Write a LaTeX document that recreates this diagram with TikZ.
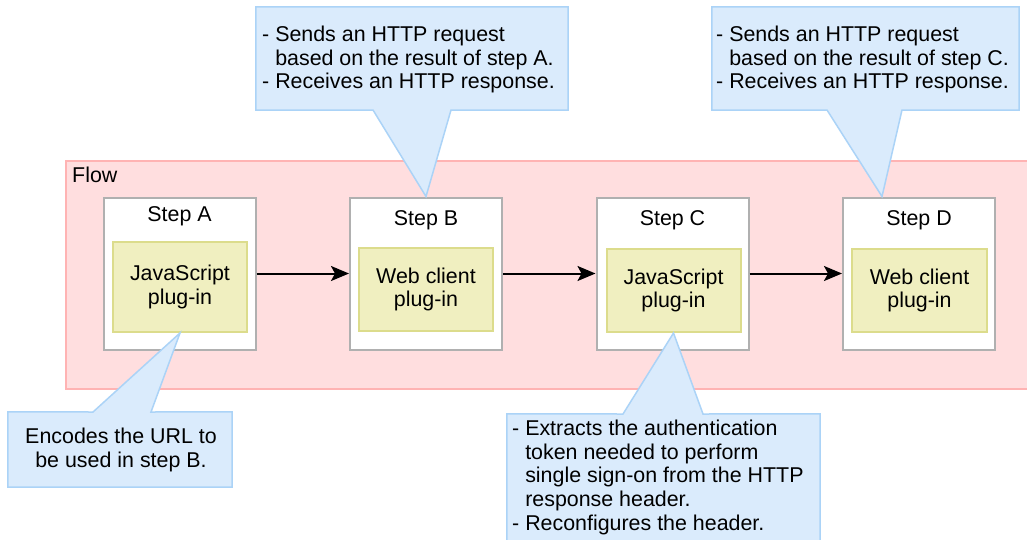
\documentclass[tikz,border=0pt]{standalone}
\usepackage{fontspec}
\setmainfont{Liberation Sans}
\usetikzlibrary{arrows.meta}
\definecolor{flowfill}{HTML}{FFDEDF}
\definecolor{flowline}{HTML}{FFB3B3}
\definecolor{stepline}{HTML}{B0B0B0}
\definecolor{plugfill}{HTML}{F0EFC0}
\definecolor{plugline}{HTML}{DCDC8C}
\definecolor{callfill}{HTML}{DAEBFC}
\definecolor{callline}{HTML}{ABD3F7}
\begin{document}
\begin{tikzpicture}[x=1pt,y=-1pt,
  font=\fontsize{21.4pt}{23.6pt}\selectfont,
  flowbox/.style={draw=flowline, fill=flowfill, line width=1.5pt, inner sep=0},
  stepbox/.style={draw=stepline, fill=white, line width=2pt, inner sep=0,
    minimum width=152pt, minimum height=152pt},
  plugbox/.style={draw=plugline, fill=plugfill, line width=2pt, inner sep=0,
    align=center, minimum width=134pt, minimum height=83pt},
  steplabel/.style={anchor=base, inner sep=0},
  flowarrow/.style={-{Stealth[length=18pt,width=15pt,inset=4pt]}, line width=2pt},
  callout/.style={draw=callline, fill=callfill, line width=1.5pt, line join=miter},
  cbody/.style={inner sep=0},
  ctext/.style={inner sep=0, align=left, anchor=north west}]
\clip (0,0) rectangle (1027,539);
\fill[white] (0,0) rectangle (1027,539);

% flow container
\node[flowbox, anchor=north west, minimum width=990pt, minimum height=228pt] (flow) at (65,160) {};
\node[anchor=base west, inner sep=0] (flowlbl) at (72,182) {Flow};

% steps
\node[stepbox] (A) at (179.5,273.5) {};
\node[stepbox] (B) at (426,273.5) {};
\node[stepbox] (C) at (672.5,273.5) {};
\node[stepbox] (D) at (919,273.5) {};

\node[steplabel] (lA) at (179.5,221) {Step A};
\node[steplabel] (lB) at (426,225) {Step B};
\node[steplabel] (lC) at (672.5,225) {Step C};
\node[steplabel] (lD) at (919,225) {Step D};

\node[plugbox, minimum height=90pt] (pA) at (180,287) {JavaScript\\plug-in};
\node[plugbox] (pB) at (426,289.5) {Web client\\plug-in};
\node[plugbox] (pC) at (673.5,290.5) {JavaScript\\plug-in};
\node[plugbox, minimum width=135pt] (pD) at (919.5,290.5) {Web client\\plug-in};

% arrows
\draw[flowarrow] (A.east) -- (A.east -| B.west);
\draw[flowarrow] (B.east) -- (B.east -| C.west);
\draw[flowarrow] (C.east) -- (C.east -| D.west);

% callout bodies
\node[cbody, minimum width=312pt, minimum height=103pt] (cbB) at (412,58.5) {};
\node[cbody, minimum width=307pt, minimum height=103pt] (cbD) at (865.5,58.5) {};
\node[cbody, minimum width=224pt, minimum height=75pt] (cbA) at (120,449.5) {};
\node[cbody, minimum width=313pt, minimum height=156pt] (cbC) at (663.5,492) {};

\path[callout] (cbB.north west) -- (cbB.north east) -- (cbB.south east)
  -- (451,110) -- (B.north) -- (373,110) -- (cbB.south west) -- cycle;
\path[callout] (cbD.north west) -- (cbD.north east) -- (cbD.south east)
  -- (902,110) -- ([xshift=-37pt]D.north) -- (827,110) -- (cbD.south west) -- cycle;
\path[callout] (cbA.south west) -- (cbA.south east) -- (cbA.north east)
  -- (151,412) -- (pA.south) -- (93,412) -- (cbA.north west) -- cycle;
\path[callout] (cbC.south west) -- (cbC.south east) -- (cbC.north east)
  -- (703,414) -- (pC.south) -- (623,414) -- (cbC.north west) -- cycle;

% callout texts
\node[ctext] (tB) at (262,26) {- Sends an HTTP request\\\hphantom{- }based on the result of step A.\\- Receives an HTTP response.};
\node[ctext] (tD) at (716,26) {- Sends an HTTP request\\\hphantom{- }based on the result of step C.\\- Receives an HTTP response.};
\node[inner sep=0, align=center, anchor=north] (tA) at (121,428) {Encodes the URL to\\be used in step B.};
\node[ctext] (tC) at (512,420) {- Extracts the authentication\\\hphantom{- }token needed to perform\\\hphantom{- }single sign-on from the HTTP\\\hphantom{- }response header.\\- Reconfigures the header.};
\end{tikzpicture}
\end{document}
